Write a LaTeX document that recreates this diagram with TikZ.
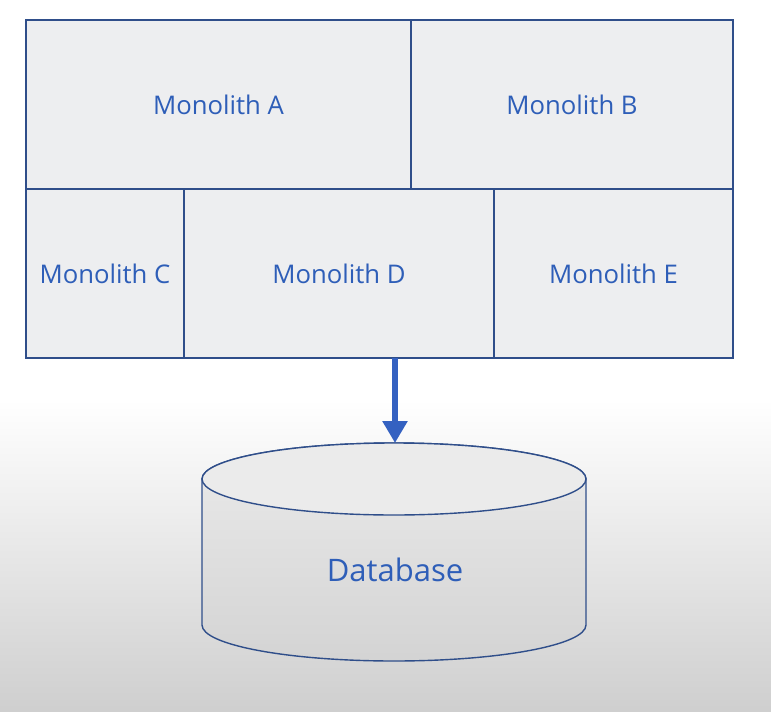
\documentclass[tikz,border=0pt]{standalone}
\usepackage{fontspec}
\setmainfont{Open Sans}
\usetikzlibrary{arrows.meta}
\definecolor{edgeblue}{RGB}{47,78,138}
\definecolor{textblue}{RGB}{46,94,184}
\definecolor{arrowblue}{RGB}{52,97,193}
\definecolor{boxfill}{RGB}{237,238,240}
\tikzset{
  mono/.style={draw=edgeblue, line width=1.5pt, fill=boxfill, outer sep=0pt, inner sep=0pt,
    text=textblue, font=\fontsize{25.7}{30}\selectfont, anchor=center},
  dblabel/.style={text=textblue, font=\fontsize{31}{36}\selectfont, inner sep=0pt},
  flow/.style={draw=arrowblue, line width=6pt, -{Triangle[width=24pt,length=22pt]}}
}
\begin{document}
\begin{tikzpicture}[x=1pt,y=-1pt]
\useasboundingbox (0,0) rectangle (771,712);
\fill[white] (0,0) rectangle (771,400);
\shade[top color=white, bottom color=black!19] (0,399) rectangle (771,712);
% monolith blocks
\node[mono, minimum width=385pt, minimum height=169pt] (A) at (218.5,104.5) {Monolith A};
\node[mono, minimum width=322pt, minimum height=169pt] (B) at (572,104.5) {Monolith B};
\node[mono, minimum width=158pt, minimum height=169pt] (C) at (105,273.5) {Monolith C};
\node[mono, minimum width=310pt, minimum height=169pt] (D) at (339,273.5) {Monolith D};
\node[mono, minimum width=239pt, minimum height=169pt] (E) at (613.5,273.5) {Monolith E};
% database cylinder
\shade[top color=black!8, bottom color=black!17, draw=edgeblue, line width=1.4pt]
  (202,479) -- (202,625) arc(180:360:192pt and 36pt) -- (586,479) arc(0:180:192pt and 36pt) -- cycle;
\draw[fill=black!8, draw=edgeblue, line width=1.4pt] (394,479) ellipse (192pt and 36pt);
\coordinate (dbtop) at (395,443);
\coordinate (src) at (395,358);
\node[dblabel] (db) at (395,570) {Database};
\draw[flow] (src) -- (dbtop);
\end{tikzpicture}
\end{document}
